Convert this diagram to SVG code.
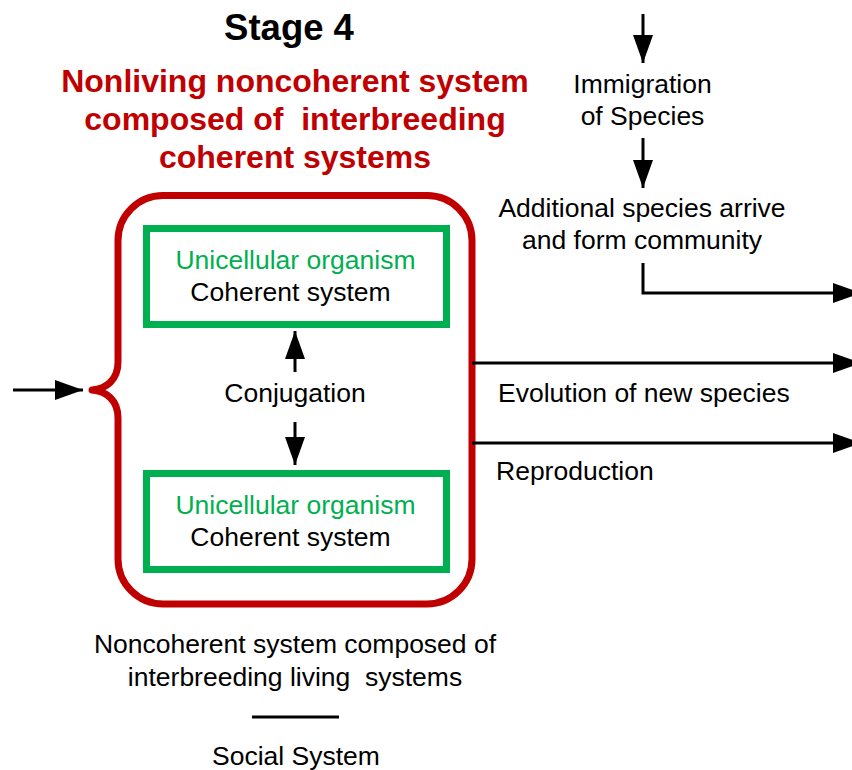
<svg xmlns="http://www.w3.org/2000/svg" width="852" height="770" viewBox="0 0 852 770">
<style>
text{font-family:"Liberation Sans",Arial,sans-serif;font-size:26.5px;fill:#000}
.c{text-anchor:middle}
.title{font-weight:bold;font-size:36.5px}
.red{font-weight:bold;font-size:32px;fill:#C00000}
.green{fill:#00B050}
.box{fill:none;stroke:#00B050;stroke-width:7}
.outer{fill:none;stroke:#C00000;stroke-width:7;stroke-linejoin:round}
.arr{fill:none;stroke:#000;stroke-width:3;marker-end:url(#ah)}
.ln{fill:none;stroke:#000;stroke-width:3}
</style>
<defs>
<marker id="ah" markerUnits="userSpaceOnUse" markerWidth="28" markerHeight="20" refX="28" refY="10" orient="auto" overflow="visible">
<path d="M0,0 L28,10 L0,20 Z" fill="#000"/>
</marker>
</defs>
<g id="titles">
<text class="c title" x="289" y="40">Stage 4</text>
<text class="c red" x="295" y="92">Nonliving noncoherent system</text>
<text class="c red" x="295" y="130" xml:space="preserve">composed of  interbreeding</text>
<text class="c red" x="295" y="168">coherent systems</text>
</g>
<g id="container">
<path class="outer" d="M163,195.5 H427 A45,45 0 0 1 472,240.5 V559 A45,45 0 0 1 427,604 H163 A45,45 0 0 1 118,559 V418 C118,400 106,391 92,390 C106,389 118,380 118,362 V240.5 A45,45 0 0 1 163,195.5 Z"/>
</g>
<g id="organism1">
<rect class="box" x="146.5" y="228.5" width="300" height="96"/>
<text class="c green" x="295.5" y="269">Unicellular organism</text>
<text class="c" x="290.5" y="301">Coherent system</text>
</g>
<g id="organism2">
<rect class="box" x="146.5" y="473.5" width="300" height="96"/>
<text class="c green" x="295.5" y="514">Unicellular organism</text>
<text class="c" x="290.5" y="546">Coherent system</text>
</g>
<g id="conjugation">
<text class="c" x="295" y="402">Conjugation</text>
</g>
<g id="immigration">
<text class="c" x="642.5" y="93">Immigration</text>
<text class="c" x="642.5" y="125">of Species</text>
</g>
<g id="additional">
<text class="c" x="642" y="217">Additional species arrive</text>
<text class="c" x="642" y="249">and form community</text>
</g>
<g id="labels">
<text x="498" y="402">Evolution of new species</text>
<text x="496" y="480">Reproduction</text>
</g>
<g id="bottom">
<text class="c" x="295" y="653">Noncoherent system composed of</text>
<text class="c" x="295" y="686" xml:space="preserve">interbreeding living  systems</text>
<line class="ln" x1="252" y1="717" x2="339" y2="717"/>
<text class="c" x="296" y="765">Social System</text>
</g>
<g id="connectors">
<path class="arr" d="M13,390 H83"/>
<path class="arr" d="M295,372 V331"/>
<path class="arr" d="M295,422 V465"/>
<path class="arr" d="M643,14 V63"/>
<path class="arr" d="M643,138 V188"/>
<path class="arr" d="M643,263 V293 H861"/>
<path class="arr" d="M472,363 H861"/>
<path class="arr" d="M472,443 H861"/>
</g>
</svg>
